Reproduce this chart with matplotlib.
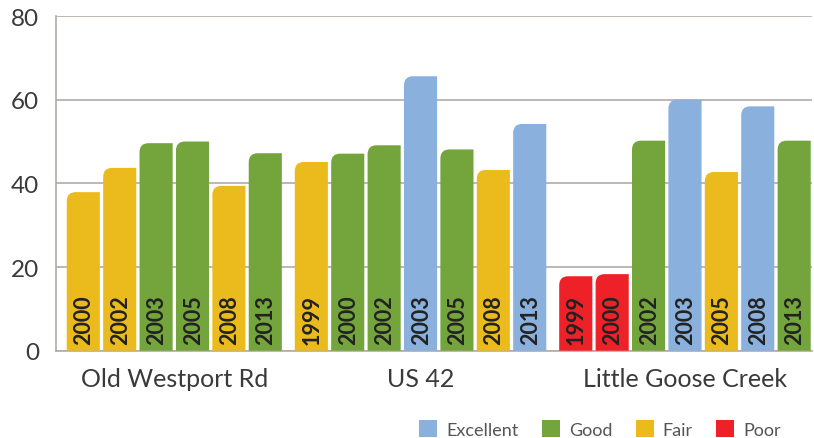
import matplotlib
matplotlib.use("Agg")
import matplotlib.pyplot as plt
from matplotlib.path import Path
from matplotlib.patches import PathPatch, Patch

# water quality scores by site and year
sites = ["Old Westport Rd", "US 42", "Little Goose Creek"]
years = [
    ["2000", "2002", "2003", "2005", "2008", "2013"],
    ["1999", "2000", "2002", "2003", "2005", "2008", "2013"],
    ["1999", "2000", "2002", "2003", "2005", "2008", "2013"],
]
scores = [
    [37.9, 43.7, 49.6, 50.0, 39.4, 47.2],
    [45.1, 47.1, 49.1, 65.6, 48.1, 43.2, 54.2],
    [17.8, 18.3, 50.2, 60.0, 42.7, 58.4, 50.2],
]
ratings = [
    ["Fair", "Fair", "Good", "Good", "Fair", "Good"],
    ["Fair", "Good", "Good", "Excellent", "Good", "Fair", "Excellent"],
    ["Poor", "Poor", "Good", "Excellent", "Fair", "Excellent", "Good"],
]
legend_order = ["Excellent", "Good", "Fair", "Poor"]
colors = {"Excellent": "#8AB0DD", "Good": "#74A53C",
          "Fair": "#EBBB1E", "Poor": "#EE2128"}

grid_col = "#B3AAA6"
text_col = "#3a3a3a"
plt.rcParams['font.family'] = ['Lato', 'DejaVu Sans']

fig = plt.figure(figsize=(8.14, 4.39), dpi=100)
ax = fig.add_axes([56/814, 87.3/439, 756/814, 334.7/439])

gap = 0.265
width = 0.91
xs, centers = [], []
pos = 0.0
for g, ys in enumerate(scores):
    grp = [pos + i for i in range(len(ys))]
    xs.append(grp)
    centers.append((grp[0] + grp[-1]) / 2)
    pos = grp[-1] + 1 + gap

ax.set_xlim(-0.75, xs[-1][-1] + 0.49)
ax.set_ylim(0, 80)

# corner radius in data units (about 9 px)
rx = 9 / 36.4
ry = 9 / 4.18

for g in range(len(sites)):
    bars = ax.bar(xs[g], scores[g], width=width,
                  color=[colors[r] for r in ratings[g]], zorder=3)
    for rect, yr in zip(bars, years[g]):
        x0, w, h = rect.get_x(), rect.get_width(), rect.get_height()
        verts = [(x0, 0), (x0, h - ry), (x0, h), (x0 + rx, h),
                 (x0 + w, h), (x0 + w, 0), (x0, 0)]
        codes = [Path.MOVETO, Path.LINETO, Path.CURVE3, Path.CURVE3,
                 Path.LINETO, Path.LINETO, Path.CLOSEPOLY]
        ax.add_patch(PathPatch(Path(verts, codes), facecolor=rect.get_facecolor(),
                               edgecolor="none", zorder=3))
        rect.remove()
        ax.text(x0 + w / 2 + 0.02, 1.6, yr, rotation=90, ha="center", va="bottom",
                fontsize=15.5, fontweight="bold", color="#222222", zorder=4)

ax.set_yticks([0, 20, 40, 60, 80])
ax.grid(axis="y", color=grid_col, linewidth=1.2, zorder=0)
ax.set_xticks(centers)
ax.set_xticklabels(sites, fontsize=18, color=text_col)
ax.tick_params(axis="y", length=0, pad=12, labelsize=17.5, labelcolor=text_col)
ax.tick_params(axis="x", length=0, pad=12)
for s in ["top", "right"]:
    ax.spines[s].set_visible(False)
for s in ["left", "bottom"]:
    ax.spines[s].set_color(grid_col)
    ax.spines[s].set_linewidth(1.2)

handles = [Patch(facecolor=colors[k], edgecolor="none", label=k) for k in legend_order]
fig.legend(handles=handles, loc="center", bbox_to_anchor=(600/814, 9/439),
           ncol=4, frameon=False, fontsize=13, labelcolor="#555555",
           handlelength=1.0, handleheight=1.0, handletextpad=0.5, columnspacing=1.3)

fig.savefig("out.png", dpi=100)
